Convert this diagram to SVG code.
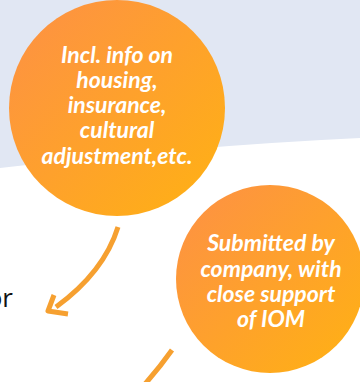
<svg xmlns="http://www.w3.org/2000/svg" width="360" height="382" viewBox="0 0 360 382">
<defs>
<linearGradient id="g" x1="0" y1="0" x2="1" y2="1">
<stop offset="0" stop-color="#fd9046"/>
<stop offset="1" stop-color="#ffb212"/>
</linearGradient>
<style>
.t{font-family:Lato,"Open Sans",sans-serif;font-weight:bold;font-style:italic;font-size:23px;fill:#fff;text-anchor:middle}
.a{fill:none;stroke:#f6a030;stroke-width:5;stroke-linecap:butt;stroke-linejoin:round}
</style>
</defs>
<rect width="360" height="382" fill="#fff"/>
<path d="M0,0 H360 V138 Q190,146 0,168 Z" fill="#e1e7f3"/>
<g id="node-top">
<circle cx="117" cy="108" r="108" fill="url(#g)"/>
<text class="t" x="117" y="63">Incl. info on</text>
<text class="t" x="117" y="88">housing,</text>
<text class="t" x="117" y="113">insurance,</text>
<text class="t" x="117" y="138">cultural</text>
<text class="t" x="117" y="164">adjustment,etc.</text>
</g>
<g id="node-bottom">
<circle cx="270" cy="279" r="94" fill="url(#g)"/>
<text class="t" x="271" y="251">Submitted by</text>
<text class="t" x="271" y="277">company, with</text>
<text class="t" x="271" y="302">close support</text>
<text class="t" x="271" y="327">of IOM</text>
</g>
<g id="node-or">
<text x="13" y="307" font-family="'Open Sans',sans-serif" font-size="26" fill="#111" text-anchor="end">or</text>
</g>
<g id="connectors">
<path class="a" d="M118,227 Q104,272 56,307"/>
<path class="a" d="M54,295 L48,311 L68,314"/>
<path class="a" d="M172,350 Q160,367 145,384"/>
</g>
</svg>
